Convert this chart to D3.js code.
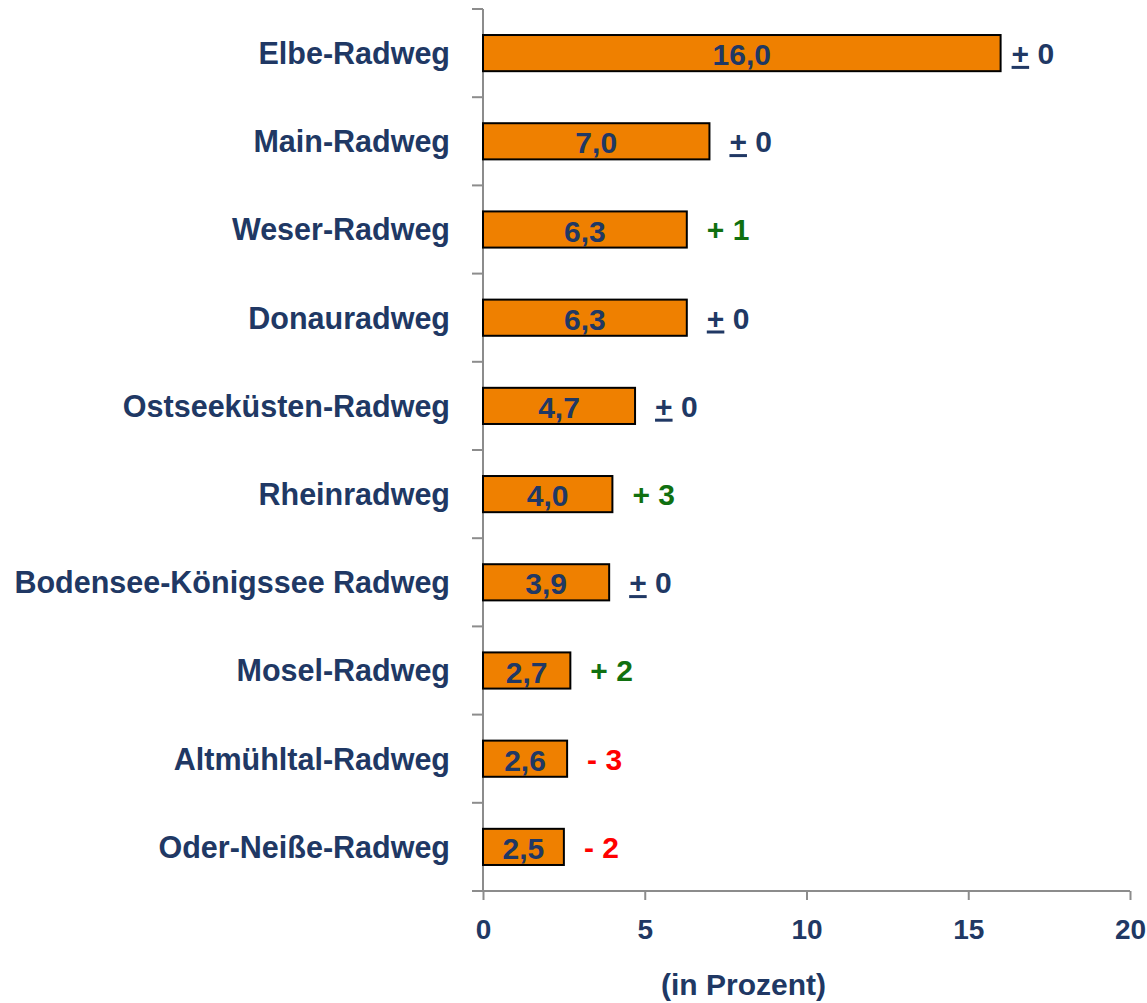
<!DOCTYPE html>
<html>
<head>
<meta charset="utf-8">
<script src="https://cdn.jsdelivr.net/npm/d3@7"></script>
<style>
  body { margin: 0; background: #fff; }
  svg text { font-family: 'Liberation Sans Narrow', 'Arial Narrow', 'Liberation Sans', sans-serif; font-weight: bold; }
  .tick line, .domain { stroke: #8c8c8c; stroke-width: 2; }
</style>
</head>
<body>
<svg width="1147" height="1003"></svg>
<script>
const routes = ['Elbe-Radweg', 'Main-Radweg', 'Weser-Radweg', 'Donauradweg', 'Ostseeküsten-Radweg',
  'Rheinradweg', 'Bodensee-Königssee Radweg', 'Mosel-Radweg', 'Altmühltal-Radweg', 'Oder-Neiße-Radweg'];
const shares = [16.0, 7.0, 6.3, 6.3, 4.7, 4.0, 3.9, 2.7, 2.6, 2.5];
const changes = [0, 0, 1, 0, 0, 3, 0, 2, -3, -2];
const xTicks = [0, 5, 10, 15, 20];

const svg = d3.select('svg');
const navy = '#203864';

const margin = { top: 9, left: 483, right: 17, bottom: 112 };
const innerWidth = 1147 - margin.left - margin.right;
const innerHeight = 1003 - margin.top - margin.bottom;

const data = routes.map((r, i) => ({ route: r, share: shares[i], change: changes[i] }));

const xScale = d3.scaleLinear().domain([0, 20]).range([0, innerWidth]);
const yScale = d3.scaleBand().domain(routes).range([0, innerHeight]).paddingInner(0.59).paddingOuter(0.295);

const g = svg.append('g').attr('transform', `translate(${margin.left},${margin.top})`);

// y axis: line with ticks between categories
g.append('line').attr('class', 'domain')
  .attr('x1', 0).attr('x2', 0).attr('y1', 0).attr('y2', innerHeight);
const step = innerHeight / routes.length;
g.selectAll('.ytick').data(d3.range(routes.length)).join('line')
  .attr('class', 'domain')
  .attr('x1', -11).attr('x2', 0)
  .attr('y1', i => i * step).attr('y2', i => i * step);

g.selectAll('.cat').data(data).join('text')
  .attr('x', -33)
  .attr('y', d => yScale(d.route) + yScale.bandwidth() / 2)
  .attr('dy', '0.36em')
  .attr('text-anchor', 'end')
  .attr('fill', navy)
  .style('font-size', '30.5px')
  .text(d => d.route);

// x axis
const xAxisG = g.append('g')
  .attr('transform', `translate(0,${innerHeight})`)
  .call(d3.axisBottom(xScale).tickValues(xTicks).tickFormat(d3.format('d')).tickSize(9).tickPadding(19));
xAxisG.select('.domain').attr('d', `M-11,0H${innerWidth}`);
xAxisG.selectAll('.tick text').attr('fill', navy).style('font-size', '28px');

g.append('text')
  .attr('x', xScale(10) - 63)
  .attr('y', innerHeight + 104)
  .attr('text-anchor', 'middle')
  .attr('fill', navy)
  .style('font-size', '30px')
  .text('(in Prozent)');

// bars
g.selectAll('.bar').data(data).join('rect')
  .attr('x', 0)
  .attr('y', d => yScale(d.route))
  .attr('width', d => xScale(d.share))
  .attr('height', yScale.bandwidth())
  .attr('fill', '#ef8000')
  .attr('stroke', '#000')
  .attr('stroke-width', 2);

g.selectAll('.val').data(data).join('text')
  .attr('x', d => xScale(d.share) / 2)
  .attr('y', d => yScale(d.route) + yScale.bandwidth() / 2)
  .attr('dy', '0.4em')
  .attr('text-anchor', 'middle')
  .attr('fill', navy)
  .style('font-size', '30px')
  .text(d => d3.format('.1f')(d.share).replace('.', ','));

// change labels
const chg = g.selectAll('.chg').data(data).join('text')
  .attr('x', d => xScale(d.share) + (d.share > 10 ? 11 : 20))
  .attr('y', d => yScale(d.route) + yScale.bandwidth() / 2)
  .attr('dy', '0.36em')
  .style('font-size', '30px')
  .attr('fill', d => d.change > 0 ? '#107010' : d.change < 0 ? '#ff0000' : navy);

chg.each(function (d) {
  const t = d3.select(this);
  if (d.change === 0) {
    t.append('tspan').style('text-decoration', 'underline').text('+');
    t.append('tspan').text(' 0');
  } else {
    t.text((d.change > 0 ? '+ ' : '- ') + Math.abs(d.change));
  }
});
</script>
</body>
</html>
